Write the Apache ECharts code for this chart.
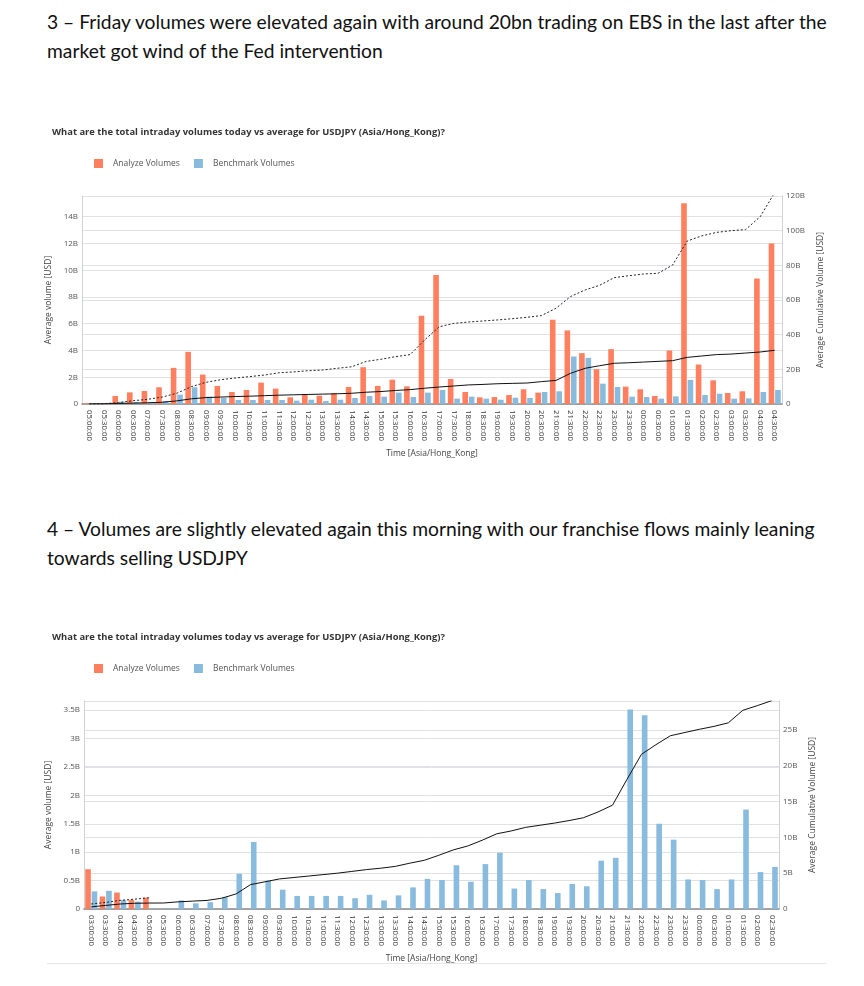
<!DOCTYPE html>
<html>
<head>
<meta charset="utf-8">
<script src="https://cdn.jsdelivr.net/npm/echarts@6/dist/echarts.min.js"></script>
<style>
  body { margin: 0; background: #fff; width: 864px; height: 986px; position: relative; overflow: hidden; }
  .heading { position: absolute; left: 47px; font-family: Lato, sans-serif; font-size: 19.25px; line-height: 29px; color: #111; white-space: nowrap; }
  .chart { position: absolute; left: 0; width: 864px; height: 360px; }
  .sep { position: absolute; left: 47px; width: 779px; top: 963px; height: 1px; background: #e4e6ea; }
</style>
</head>
<body>
<div class="heading" style="top:7px">3 – Friday volumes were elevated again with around 20bn trading on EBS in the last after the<br>market got wind of the Fed intervention</div>
<div id="chart1" class="chart" style="top:110px"></div>
<div class="heading" style="top:514px">4 – Volumes are slightly elevated again this morning with our franchise flows mainly leaning<br>towards selling USDJPY</div>
<div id="chart2" class="chart" style="top:615px"></div>
<div class="sep"></div>
<script>
// Friday session, 05:00 -> 04:30 (billions USD)
let times1 = [
  '05:00:00', '05:30:00', '06:00:00', '06:30:00', '07:00:00', '07:30:00', '08:00:00', '08:30:00',
  '09:00:00', '09:30:00', '10:00:00', '10:30:00', '11:00:00', '11:30:00', '12:00:00', '12:30:00',
  '13:00:00', '13:30:00', '14:00:00', '14:30:00', '15:00:00', '15:30:00', '16:00:00', '16:30:00',
  '17:00:00', '17:30:00', '18:00:00', '18:30:00', '19:00:00', '19:30:00', '20:00:00', '20:30:00',
  '21:00:00', '21:30:00', '22:00:00', '22:30:00', '23:00:00', '23:30:00', '00:00:00', '00:30:00',
  '01:00:00', '01:30:00', '02:00:00', '02:30:00', '03:00:00', '03:30:00', '04:00:00', '04:30:00'
];
let analyze1 = [
  0.05, 0.05, 0.6, 0.87, 0.97, 1.25, 2.7, 3.9,
  2.2, 1.35, 0.9, 1.05, 1.6, 1.15, 0.5, 0.72,
  0.62, 0.82, 1.27, 2.75, 1.35, 1.82, 1.32, 6.6,
  9.65, 1.87, 0.9, 0.5, 0.52, 0.67, 1.1, 0.85,
  6.3, 5.5, 3.8, 2.6, 4.1, 1.3, 1.1, 0.6,
  4.0, 15.0, 2.95, 1.77, 0.82, 0.95, 9.38, 12.0
];
let benchmark1 = [
  0.02, 0.05, 0.17, 0.15, 0.15, 0.22, 0.7, 1.25,
  0.55, 0.45, 0.3, 0.3, 0.3, 0.3, 0.25, 0.32,
  0.22, 0.32, 0.45, 0.6, 0.55, 0.85, 0.52, 0.85,
  1.05, 0.4, 0.55, 0.4, 0.32, 0.47, 0.45, 0.9,
  0.95, 3.55, 3.45, 1.52, 1.27, 0.55, 0.52, 0.4,
  0.57, 1.8, 0.67, 0.77, 0.4, 0.42, 0.9, 1.05
];
let analyzeCum1 = [
  0.05, 0.2, 0.8, 1.9, 2.7, 4.0, 6.2, 10.0,
  12.5, 14.0, 15.0, 15.8, 16.7, 18.0, 18.5, 19.2,
  19.6, 20.6, 21.5, 24.6, 25.8, 27.3, 28.5, 37.0,
  44.6, 46.5, 47.3, 47.9, 48.5, 49.2, 50.0, 51.0,
  55.2, 62.0, 65.8, 68.5, 72.9, 74.0, 75.0, 75.4,
  80.2, 94.0, 97.0, 99.0, 100.0, 100.6, 108.0, 122.0
];
let benchmarkCum1 = [
  0.02, 0.1, 0.3, 0.5, 0.7, 1.0, 1.8, 3.0,
  3.7, 4.0, 4.3, 4.5, 4.8, 5.1, 5.3, 5.5,
  5.7, 5.9, 6.2, 6.8, 7.2, 7.8, 8.3, 9.1,
  9.8, 10.4, 11.0, 11.3, 11.7, 11.9, 12.1, 12.9,
  13.6, 17.7, 20.6, 22.1, 23.5, 23.8, 24.2, 24.6,
  25.0, 26.9, 27.7, 28.5, 28.8, 29.4, 30.0, 31.0
];

// this morning, 03:00 -> 02:30 (billions USD)
let times2 = [
  '03:00:00', '03:30:00', '04:00:00', '04:30:00', '05:00:00', '05:30:00', '06:00:00', '06:30:00',
  '07:00:00', '07:30:00', '08:00:00', '08:30:00', '09:00:00', '09:30:00', '10:00:00', '10:30:00',
  '11:00:00', '11:30:00', '12:00:00', '12:30:00', '13:00:00', '13:30:00', '14:00:00', '14:30:00',
  '15:00:00', '15:30:00', '16:00:00', '16:30:00', '17:00:00', '17:30:00', '18:00:00', '18:30:00',
  '19:00:00', '19:30:00', '20:00:00', '20:30:00', '21:00:00', '21:30:00', '22:00:00', '22:30:00',
  '23:00:00', '23:30:00', '00:00:00', '00:30:00', '01:00:00', '01:30:00', '02:00:00', '02:30:00'
];
let analyze2 = [0.7, 0.22, 0.29, 0.16, 0.2];
let benchmark2 = [
  0.31, 0.32, 0.16, 0.13, 0.01, 0.01, 0.15, 0.1,
  0.12, 0.21, 0.62, 1.18, 0.5, 0.34, 0.23, 0.23,
  0.23, 0.23, 0.19, 0.25, 0.15, 0.24, 0.38, 0.53,
  0.51, 0.77, 0.48, 0.79, 0.99, 0.36, 0.51, 0.35,
  0.28, 0.44, 0.4, 0.85, 0.9, 3.51, 3.41, 1.5,
  1.22, 0.52, 0.51, 0.35, 0.52, 1.75, 0.65, 0.74
];
let analyzeCum2 = [0.7, 0.92, 1.21, 1.37, 1.57];
let benchmarkCum2 = [
  0.3, 0.5, 0.7, 0.8, 0.83, 0.84, 1.0, 1.1,
  1.2, 1.5, 2.1, 3.4, 3.8, 4.2, 4.4, 4.6,
  4.8, 5.0, 5.25, 5.5, 5.7, 5.95, 6.4, 6.8,
  7.5, 8.25, 8.8, 9.6, 10.5, 10.9, 11.4, 11.7,
  12.0, 12.35, 12.75, 13.55, 14.5, 18.1, 21.6, 22.95,
  24.2, 24.65, 25.1, 25.5, 26.0, 27.75, 28.4, 29.1
];

const ORANGE = '#ff7f5f';
const BLUE = '#88bbdd';
const FONT = 'Open Sans';

function fmtB(v) {
  return v === 0 ? '0' : v + 'B';
}

function buildOption(cfg) {
  let gridLine = { show: true, lineStyle: { color: '#dfe1e4', width: 1 } };
  return {
    animation: false,
    textStyle: { fontFamily: FONT },
    title: {
      text: 'What are the total intraday volumes today vs average for USDJPY (Asia/Hong_Kong)?',
      left: 47,
      top: 13,
      textStyle: { fontSize: 9.4, fontWeight: 'bold', color: '#333', fontFamily: FONT }
    },
    legend: {
      left: 89,
      top: 44,
      icon: 'rect',
      itemWidth: 9,
      itemHeight: 9,
      itemGap: 14,
      data: ['Analyze Volumes', 'Benchmark Volumes'],
      textStyle: { fontSize: 8.5, color: '#555', padding: [0, 0, 0, 5] }
    },
    grid: { left: cfg.left, right: cfg.right, top: 86, bottom: 66 },
    xAxis: {
      type: 'category',
      data: cfg.times,
      name: 'Time [Asia/Hong_Kong]',
      nameLocation: 'middle',
      nameGap: 45,
      nameTextStyle: { fontSize: 8.5, color: '#444' },
      axisLine: { lineStyle: { color: '#8a8a8a', width: 1.5 } },
      axisTick: { show: false },
      axisLabel: { interval: 0, rotate: -90, fontSize: 7.8, color: '#333', margin: 6 }
    },
    yAxis: [
      {
        type: 'value',
        min: 0,
        max: cfg.leftMax,
        interval: cfg.leftInterval,
        name: 'Average volume [USD]',
        nameLocation: 'middle',
        nameGap: 27,
        nameTextStyle: { fontSize: 8.5, color: '#444' },
        axisLine: { show: true, lineStyle: { color: '#cfd3d8' } },
        axisTick: { show: false },
        axisLabel: { fontSize: 8, color: '#555', margin: 4, showMaxLabel: false, formatter: fmtB },
        splitLine: gridLine
      },
      {
        type: 'value',
        min: 0,
        max: cfg.rightMax,
        interval: cfg.rightInterval,
        name: 'Average Cumulative Volume [USD]',
        nameLocation: 'middle',
        nameGap: 27,
        nameRotate: 90,
        nameTextStyle: { fontSize: 8.5, color: '#444' },
        axisLine: { show: true, lineStyle: { color: '#cfd3d8' } },
        axisTick: { show: false },
        axisLabel: { fontSize: 8, color: '#555', margin: 4, showMaxLabel: cfg.showRightMax, formatter: fmtB },
        splitLine: gridLine
      }
    ],
    series: [
      {
        name: 'Analyze Volumes',
        type: 'bar',
        data: cfg.analyze,
        barWidth: 5.6,
        barGap: '15%',
        itemStyle: { color: ORANGE }
      },
      {
        name: 'Benchmark Volumes',
        type: 'bar',
        data: cfg.benchmark,
        barWidth: 5.6,
        barGap: '15%',
        itemStyle: { color: BLUE }
      },
      {
        name: 'Analyze Cumulative',
        type: 'line',
        yAxisIndex: 1,
        symbol: 'none',
        data: cfg.analyzeCum,
        lineStyle: { color: '#222', width: 1, type: [2, 2] },
        z: 5
      },
      {
        name: 'Benchmark Cumulative',
        type: 'line',
        yAxisIndex: 1,
        symbol: 'none',
        data: cfg.benchmarkCum,
        lineStyle: { color: '#111', width: 1 },
        z: 5
      }
    ]
  };
}

let chart1 = echarts.init(document.getElementById('chart1'));
chart1.setOption(buildOption({
  times: times1,
  analyze: analyze1,
  benchmark: benchmark1,
  analyzeCum: analyzeCum1,
  benchmarkCum: benchmarkCum1,
  left: 82,
  right: 82,
  leftMax: 15.55,
  leftInterval: 2,
  rightMax: 120,
  rightInterval: 20,
  showRightMax: true
}));

let chart2 = echarts.init(document.getElementById('chart2'));
chart2.setOption(buildOption({
  times: times2,
  analyze: analyze2,
  benchmark: benchmark2,
  analyzeCum: analyzeCum2,
  benchmarkCum: benchmarkCum2,
  left: 84,
  right: 85,
  leftMax: 3.66,
  leftInterval: 0.5,
  rightMax: 29.05,
  rightInterval: 5,
  showRightMax: false
}));
</script>
</body>
</html>
